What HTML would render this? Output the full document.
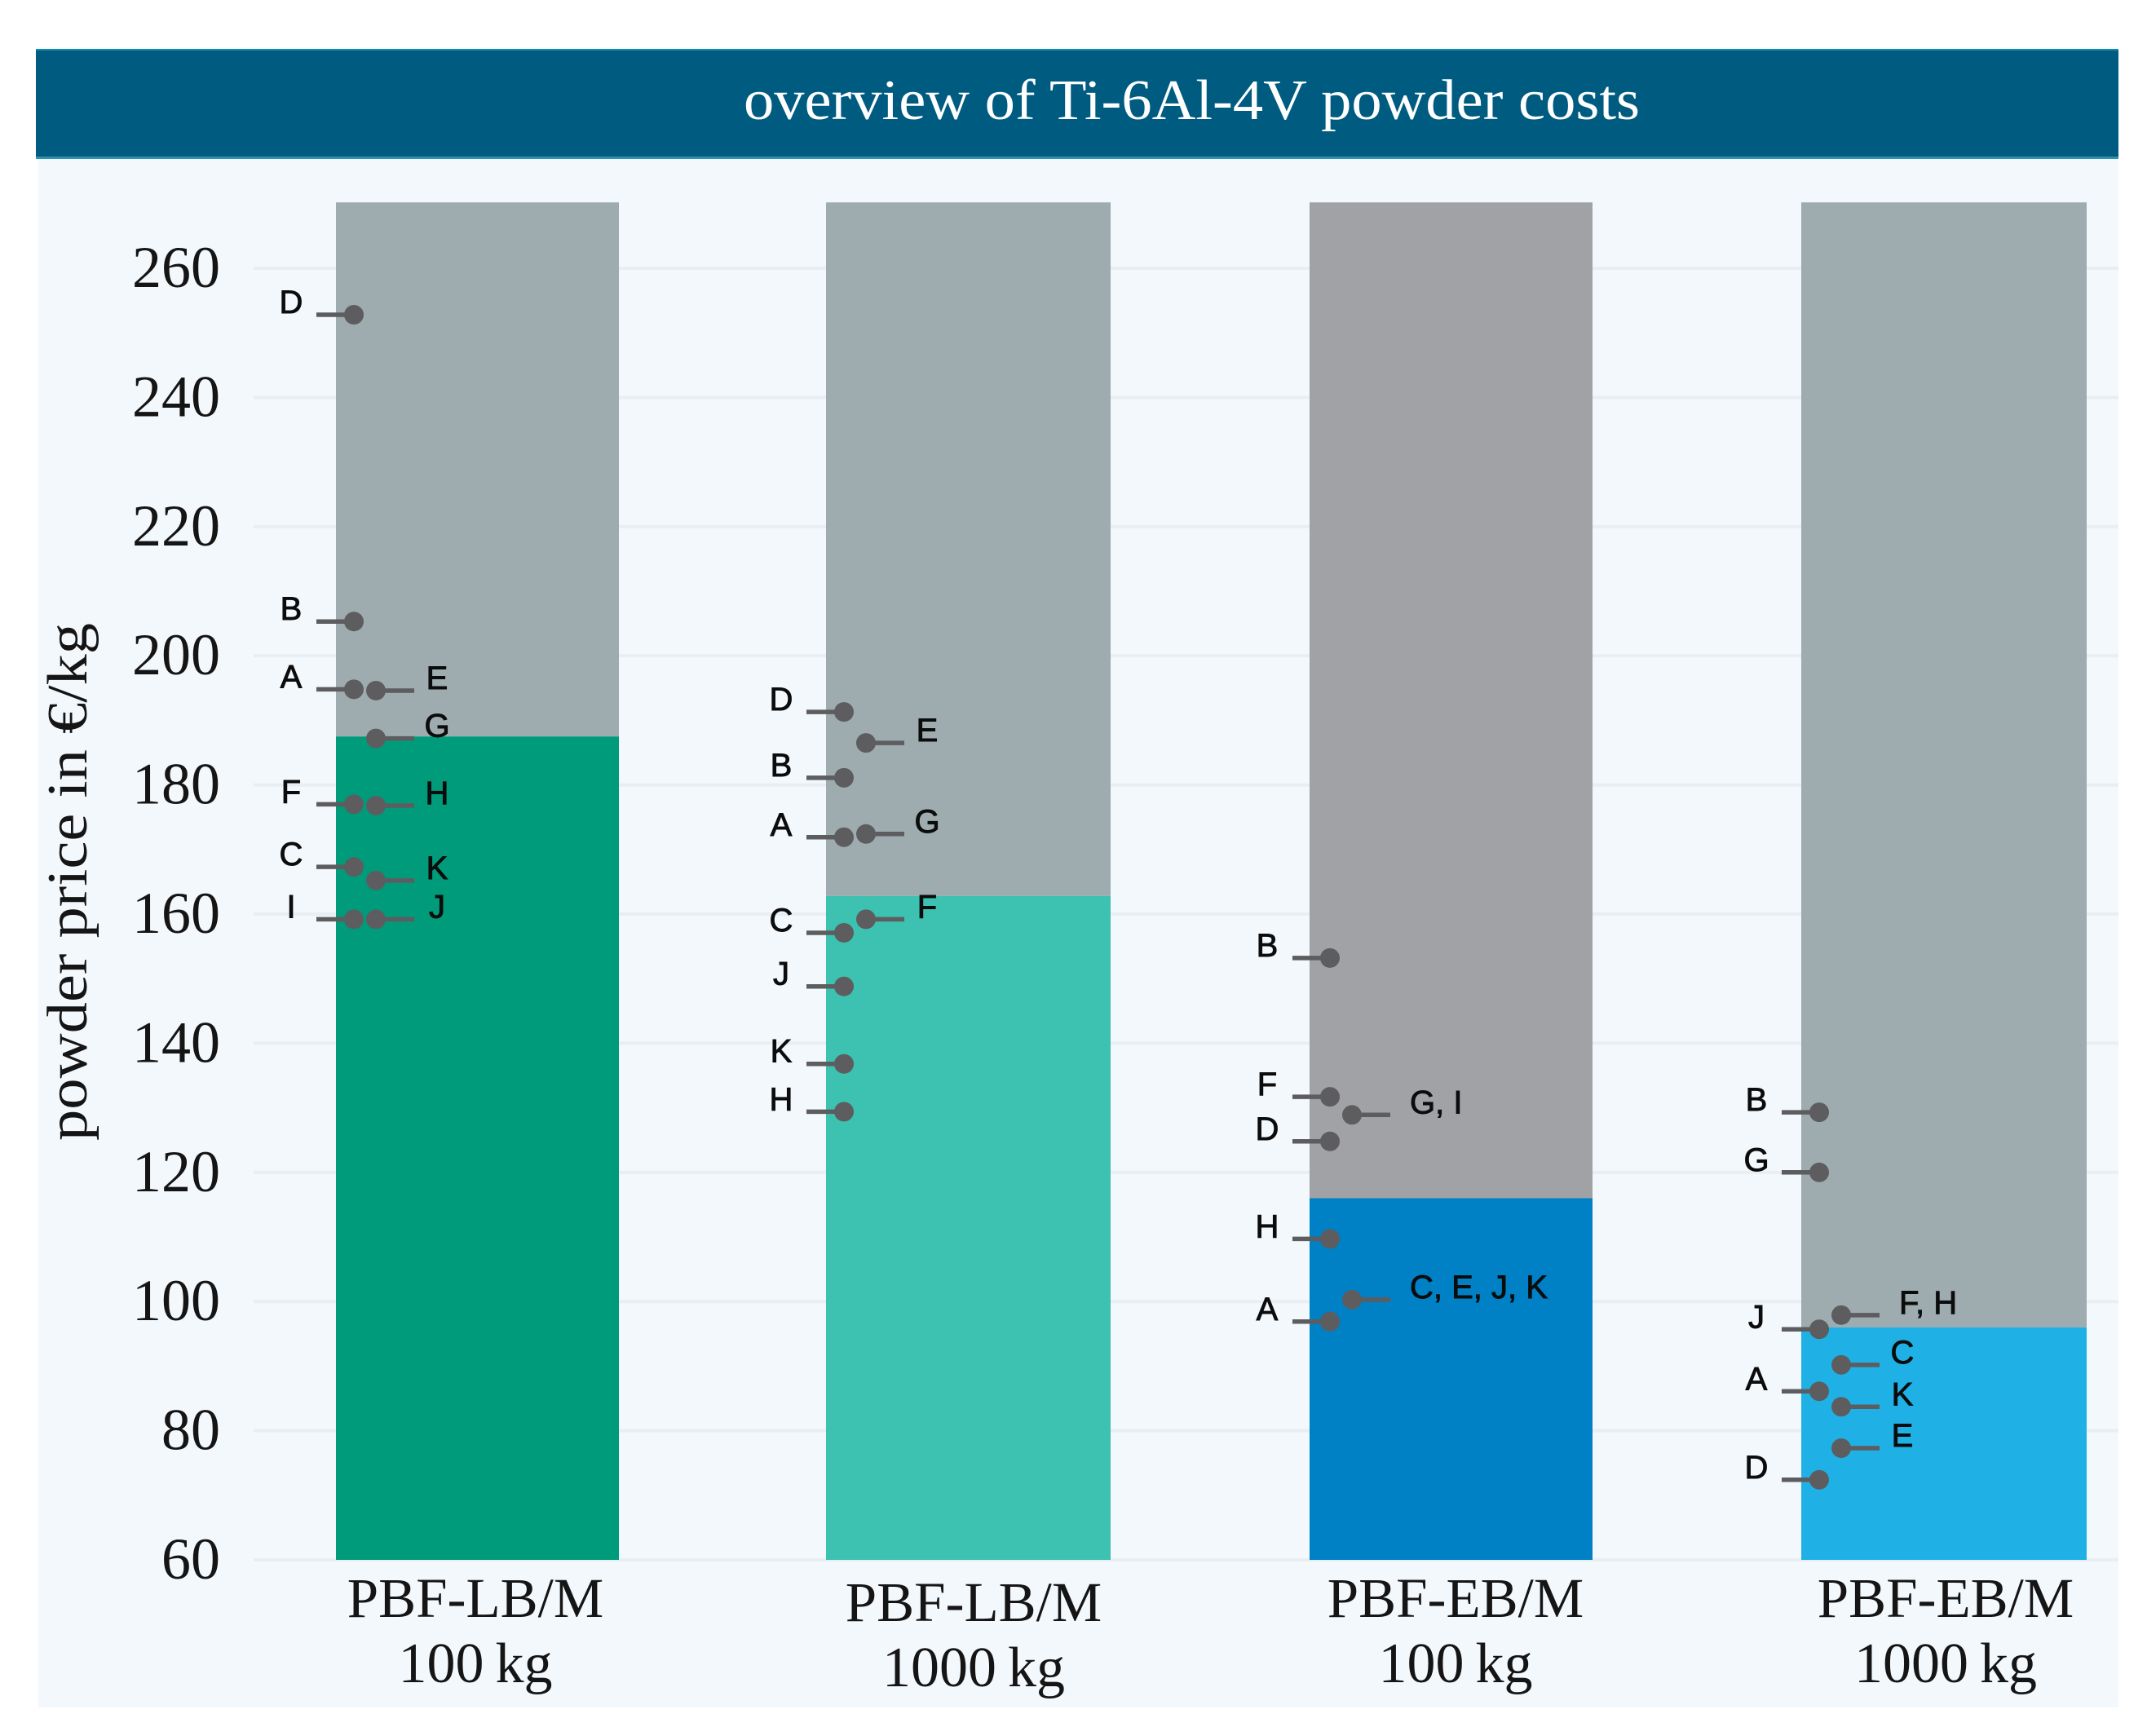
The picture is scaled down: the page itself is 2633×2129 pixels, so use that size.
<!DOCTYPE html>
<html lang="en">
<head>
<meta charset="utf-8">
<title>Overview of Ti-6Al-4V powder costs</title>
<style>
  html, body { margin: 0; padding: 0; background: #ffffff; }
  svg { display: block; }
  .serif { font-family: "Liberation Serif", serif; fill: #151515; }
  .sans { font-family: "Liberation Sans", sans-serif; fill: #0c0c0c; stroke: #0c0c0c; stroke-width: 0.9px; }
</style>
</head>
<body>
<svg id="chart" xmlns="http://www.w3.org/2000/svg" width="2633" height="2129" viewBox="0 0 2633 2129">
  <rect x="47" y="195" width="2551" height="1899" fill="#f3f8fd"/>
  <rect x="44" y="60" width="2554" height="135" fill="#005b80"/>
  <rect x="44" y="60" width="2554" height="2" fill="#0a8fb0"/>
  <rect x="44" y="192" width="2554" height="3" fill="#2f93ad"/>
  <text class="serif" x="912" y="146" font-size="70" textLength="1099" lengthAdjust="spacingAndGlyphs" style="fill:#ffffff">overview of Ti-6Al-4V powder costs</text>
  <text class="serif" transform="translate(106,1399) rotate(-90)" font-size="70" textLength="635" lengthAdjust="spacingAndGlyphs">powder price in €/kg</text>
  <g id="grid"></g>
  <g id="yticks"></g>
  <g id="bars"></g>
  <g id="marks"></g>
  <g id="xlabels"></g>
</svg>
<script>
const categories = ["PBF-LB/M", "PBF-LB/M", "PBF-EB/M", "PBF-EB/M"];
const quantities = ["100\u2009kg", "1000\u2009kg", "100\u2009kg", "1000\u2009kg"];
const yTicks = [60, 80, 100, 120, 140, 160, 180, 200, 220, 240, 260];
const axisMin = 60;
const axisMax = 270.2;
const meanPrices = [187.5, 162.8, 116, 96];

const lb100Labels = ["D", "B", "A", "E", "G", "F", "H", "C", "K", "I", "J"];
const lb100Values = [252.8, 205.3, 194.8, 194.6, 187.2, 177, 176.8, 167.3, 165.2, 159.2, 159.2];
const lb100Sides = ["L", "L", "L", "R", "R", "L", "R", "L", "R", "L", "R"];

const lb1000Labels = ["D", "E", "B", "G", "A", "F", "C", "J", "K", "H"];
const lb1000Values = [191.3, 186.5, 181.1, 172.4, 171.9, 159.2, 157.1, 148.8, 136.8, 129.4];
const lb1000Sides = ["L", "R", "L", "R", "L", "R", "L", "L", "L", "L"];

const eb100Labels = ["B", "F", "G, I", "D", "H", "C, E, J, K", "A"];
const eb100Values = [153.2, 131.7, 128.9, 124.8, 109.7, 100.3, 96.9];
const eb100Sides = ["L", "L", "R", "L", "L", "R", "L"];

const eb1000Labels = ["B", "G", "F, H", "J", "C", "A", "K", "E", "D"];
const eb1000Values = [129.3, 120, 97.9, 95.7, 90.2, 86.1, 83.7, 77.3, 72.4];
const eb1000Sides = ["L", "L", "R", "L", "R", "L", "R", "R", "L"];

const seriesLabels = [lb100Labels, lb1000Labels, eb100Labels, eb1000Labels];
const seriesValues = [lb100Values, lb1000Values, eb100Values, eb1000Values];
const seriesSides = [lb100Sides, lb1000Sides, eb100Sides, eb1000Sides];

const barFills = ["#009b7a", "#3dc1b0", "#0080c5", "#1fb1e6"];
const upperFills = ["#9eabaf", "#9eabaf", "#a0a2a6", "#9eabaf"];

const NS = "http://www.w3.org/2000/svg";
const yBase = 1913;
const yPerUnit = 7.92;

function yScale(v) { return yBase - (v - axisMin) * yPerUnit; }
function xScale(i) { return i === 0 ? 412 : i === 1 ? 1013 : i === 2 ? 1606 : 2209; }
function barWidth(i) { return i === 1 ? 349 : i === 3 ? 350 : 347; }
function dotNudge(i) { return i === 2 ? 3 : 0; }
function labelCenter(i) { return i === 0 ? 583 : i === 1 ? 1194 : i === 2 ? 1785 : 2386; }
function labelShift(i) { return i === 1 ? 5 : 0; }

function make(tag, attrs, parent, text) {
  const el = document.createElementNS(NS, tag);
  Object.keys(attrs).forEach(function (k) { el.setAttribute(k, attrs[k]); });
  if (text !== undefined) el.textContent = text;
  parent.appendChild(el);
  return el;
}

const gridG = document.getElementById("grid");
const tickG = document.getElementById("yticks");
yTicks.forEach(function (t) {
  const line = make("rect", { x: 311, y: yScale(t) - 2, width: 2287, height: 4, fill: "#e9eef2" }, gridG);
  
  
  const label = make("text", { x: 270, y: yScale(t) + 23, "font-size": 72, "text-anchor": "end", class: "serif" }, tickG, String(t));
  
  
});

const barG = document.getElementById("bars");
const markG = document.getElementById("marks");
const xLabelG = document.getElementById("xlabels");

categories.forEach(function (cat, i) {
  const left = xScale(i);
  const upper = make("rect", { x: left, y: yScale(axisMax), width: barWidth(i), height: yScale(meanPrices[i]) - yScale(axisMax), fill: upperFills[i] }, barG);
  
  
  const lower = make("rect", { x: left, y: yScale(meanPrices[i]), width: barWidth(i), height: yScale(axisMin) - yScale(meanPrices[i]), fill: barFills[i] }, barG);
  
  

  const cx = labelCenter(i);
  const catLabel = make("text", { x: cx, y: 1983 + labelShift(i), "font-size": 69, "text-anchor": "middle", class: "serif" }, xLabelG, cat);
  
  
  const qtyLabel = make("text", { x: cx, y: 2063 + labelShift(i), "font-size": 70, "text-anchor": "middle", class: "serif" }, xLabelG, quantities[i]);
  
  

  seriesLabels[i].forEach(function (name, j) {
    const isLeft = seriesSides[i][j] === "L";
    const y = yScale(seriesValues[i][j]);
    const dotX = left + dotNudge(i) + (isLeft ? 22 : 49);
    const endX = isLeft ? dotX - 46 : dotX + 47;
    const lead = make("line", { x1: dotX, y1: y, x2: endX, y2: y, stroke: "#5d5d5f", "stroke-width": 5.5 }, markG);
    
    
    const dot = make("circle", { cx: dotX, cy: y, r: 12, fill: "#5d5d5f" }, markG);
    
    
    const multi = name.length > 1;
    const labelX = isLeft ? dotX - 77 : (multi ? dotX + 71 : dotX + 75);
    const anchor = multi ? "start" : "middle";
    const lab = make("text", { x: labelX, y: y - 2, "font-size": 40, "text-anchor": anchor, class: "sans" }, markG, name);
    
    
  });
});
</script>
</body>
</html>
